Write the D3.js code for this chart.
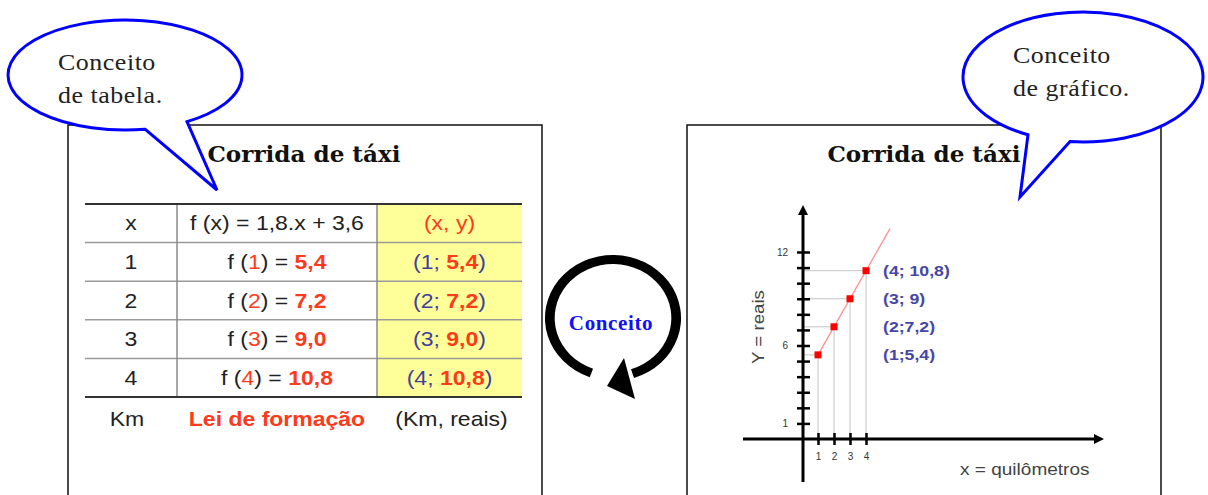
<!DOCTYPE html>
<html>
<head>
<meta charset="utf-8">
<script src="https://cdn.jsdelivr.net/npm/d3@7"></script>
<style>
  body { margin: 0; background: #fff; }
  svg { display: block; }
</style>
</head>
<body>
<svg id="chart" width="1208" height="495"></svg>
<script>
// --- data ---
const kms = [1, 2, 3, 4];
const reais = [5.4, 7.2, 9.0, 10.8];
const reaisText = ["5,4", "7,2", "9,0", "10,8"];
const pointLabels = ["(1;5,4)", "(2;7,2)", "(3; 9)", "(4; 10,8)"];
const headerCells = ["x", "f (x) = 1,8.x + 3,6", "(x, y)"];
const footerCells = ["Km", "Lei de formação", "(Km, reais)"];
const yTickValues = [1, 2, 3, 4, 5, 6, 7, 8, 9, 10, 11, 12];
const yTickLabels = [1, 6, 12];
const xTickValues = [1, 2, 3, 4];
const lawLine = [[1, 5.4], [5.5, 13.5]];

const RED = "#ff3a1a";
const BLUE = "#3f3f9f";

const svg = d3.select("#chart");

// stretched text helper (source image is a bit wide)
function stext(g, x, y, sx) {
    return g.append("text").attr("transform", `translate(${x},${y}) scale(${sx},1)`);
}

// --- frames ---
svg.append("path").attr("d", "M68,495V125H542V495")
    .attr("fill", "none").attr("stroke", "#111").attr("stroke-width", 1.5);
svg.append("path").attr("d", "M687,495V125H1161V495")
    .attr("fill", "none").attr("stroke", "#111").attr("stroke-width", 1.5);

const titles = svg.append("g")
    .style("font-family", "'DejaVu Serif', serif").style("font-weight", "bold")
    .style("font-size", "22px").attr("text-anchor", "middle").attr("fill", "#111");
stext(titles, 304, 162, 1.05).text("Corrida de táxi");
stext(titles, 924, 162, 1.05).text("Corrida de táxi");

// --- table ---
const cols = [85, 177, 377, 522];
const colMid = [0, 1, 2].map(i => (cols[i] + cols[i + 1]) / 2);
const rows = d3.scaleBand().domain(d3.range(5)).range([204, 397]);

const table = svg.append("g");
table.append("rect")
    .attr("x", cols[2]).attr("y", rows.range()[0])
    .attr("width", cols[3] - cols[2]).attr("height", rows.range()[1] - rows.range()[0])
    .attr("fill", "#ffff99");

table.selectAll(".hline").data(d3.range(1, 5)).join("line")
    .attr("x1", cols[0]).attr("x2", cols[3])
    .attr("y1", d => rows(d)).attr("y2", d => rows(d))
    .attr("stroke", "#9a9a9a").attr("stroke-width", 1.5);
table.selectAll(".vline").data([cols[1], cols[2]]).join("line")
    .attr("x1", d => d).attr("x2", d => d)
    .attr("y1", rows.range()[0]).attr("y2", rows.range()[1])
    .attr("stroke", "#8a8a8a").attr("stroke-width", 1.5);
table.selectAll(".rule").data(rows.range()).join("line")
    .attr("x1", cols[0]).attr("x2", cols[3])
    .attr("y1", d => d).attr("y2", d => d)
    .attr("stroke", "#333").attr("stroke-width", 2.2);

const cellText = table.append("g")
    .style("font-family", "'Liberation Sans', Arial, sans-serif")
    .style("font-size", "20px").attr("text-anchor", "middle").attr("fill", "#222");

const rowBase = i => rows(i) + rows.bandwidth() / 2 + 7;
const SX = 1.15;

stext(cellText, colMid[0], rowBase(0), SX).text(headerCells[0]);
stext(cellText, colMid[1], rowBase(0), SX).text(headerCells[1]);
stext(cellText, colMid[2], rowBase(0), SX).attr("fill", RED).text(headerCells[2]);

kms.forEach((k, i) => {
    const r = i + 1;
    stext(cellText, colMid[0], rowBase(r), SX).text(k);

    const f = stext(cellText, colMid[1], rowBase(r), SX);
    f.append("tspan").text("f (");
    f.append("tspan").attr("fill", RED).text(k);
    f.append("tspan").text(") = ");
    f.append("tspan").attr("fill", RED).style("font-weight", "bold").text(reaisText[i]);

    const p = stext(cellText, colMid[2], rowBase(r), SX).attr("fill", BLUE);
    p.append("tspan").text(`(${k}; `);
    p.append("tspan").attr("fill", RED).style("font-weight", "bold").text(reaisText[i]);
    p.append("tspan").text(")");
});

stext(cellText, colMid[0] - 4, 426, SX).text(footerCells[0]);
stext(cellText, colMid[1], 426, SX).attr("fill", RED).style("font-weight", "bold").text(footerCells[1]);
stext(cellText, colMid[2] + 2, 426, SX).text(footerCells[2]);

// --- circular arrow ---
const cycle = svg.append("g").attr("transform", "translate(613,318) scale(1.08,1)");
cycle.append("path")
    .attr("d", d3.arc()({ innerRadius: 54, outerRadius: 63,
        startAngle: 200 * Math.PI / 180, endAngle: 522 * Math.PI / 180 }))
    .attr("fill", "#000");
svg.append("path").attr("d", "M607,386L624,358L635,399Z").attr("fill", "#000");
stext(svg, 611, 330, 1.05)
    .attr("text-anchor", "middle")
    .style("font-family", "'Liberation Serif', 'Times New Roman', serif")
    .style("font-weight", "bold").style("font-size", "20px").style("letter-spacing", "0.6px")
    .attr("fill", "#1010ff").text("Conceito");

// --- graph ---
const x = d3.scaleLinear().domain([0, 4]).range([802, 866]);
const y = d3.scaleLinear().domain([0, 12]).range([439, 252]);
const plot = svg.append("g");

// guides
plot.selectAll(".gh").data(kms).join("line")
    .attr("x1", x(0)).attr("x2", (d) => x(d))
    .attr("y1", (d, i) => y(reais[i])).attr("y2", (d, i) => y(reais[i]))
    .attr("stroke", "#c4c4c4").attr("stroke-width", 1);
plot.selectAll(".gv").data(kms).join("line")
    .attr("x1", d => x(d)).attr("x2", d => x(d))
    .attr("y1", (d, i) => y(reais[i])).attr("y2", y(0))
    .attr("stroke", "#c4c4c4").attr("stroke-width", 1);

// law line
plot.append("path").datum(lawLine)
    .attr("d", d3.line().x(d => x(d[0])).y(d => y(d[1])))
    .attr("fill", "none").attr("stroke", "#ff8f8f").attr("stroke-width", 1.3);

// axes lines
plot.append("line").attr("x1", 743).attr("x2", 1095).attr("y1", y(0)).attr("y2", y(0))
    .attr("stroke", "#000").attr("stroke-width", 3);
plot.append("path").attr("d", `M1104,${y(0)}L1094,${y(0) - 5}L1094,${y(0) + 5}Z`).attr("fill", "#000");
plot.append("line").attr("x1", x(0) + 1).attr("x2", x(0) + 1).attr("y1", 482).attr("y2", 214)
    .attr("stroke", "#000").attr("stroke-width", 3);
plot.append("path").attr("d", `M${x(0) + 1},205L${x(0) - 4},215L${x(0) + 6},215Z`).attr("fill", "#000");

const yAxis = plot.append("g").attr("transform", `translate(${x(0) + 8},0)`)
    .call(d3.axisLeft(y).tickValues(yTickValues).tickSize(13).tickPadding(9)
        .tickFormat(d => yTickLabels.includes(d) ? d : ""));
const xAxis = plot.append("g").attr("transform", `translate(0,${y(0) - 6})`)
    .call(d3.axisBottom(x).tickValues(xTickValues).tickSize(12).tickPadding(8)
        .tickFormat(d3.format("d")));
[yAxis, xAxis].forEach(a => {
    a.select(".domain").remove();
    a.selectAll(".tick line").attr("stroke", "#000").attr("stroke-width", 2.5);
    a.selectAll(".tick text").attr("fill", "#333")
        .style("font-family", "'Liberation Sans', Arial, sans-serif").style("font-size", "10px");
});

// points
plot.selectAll(".pt").data(kms).join("rect")
    .attr("x", d => x(d) - 3.5).attr("y", (d, i) => y(reais[i]) - 3.5)
    .attr("width", 7).attr("height", 7).attr("fill", "#ff0000");

const labels = plot.append("g")
    .style("font-family", "'Liberation Sans', Arial, sans-serif")
    .style("font-weight", "bold").style("font-size", "15px").attr("fill", "#4646a8");
kms.forEach((k, i) => {
    stext(labels, x(4) + 17, y(reais[i]) + 5, 1.18).text(pointLabels[i]);
});

const axisLabels = plot.append("g")
    .style("font-family", "'Liberation Sans', Arial, sans-serif")
    .style("font-size", "17px").attr("fill", "#444");
axisLabels.append("text").attr("text-anchor", "middle")
    .attr("transform", "translate(764,327) rotate(-90) scale(1.1,1)").text("Y = reais");
stext(axisLabels, 960, 475, 1.12).text("x = quilômetros");

// --- speech bubbles ---
function bubble(cx, cy, rx, ry, baseL, baseR, tip) {
    const yAt = px => cy + ry * Math.sqrt(1 - ((px - cx) / rx) ** 2);
    const a = [baseL, yAt(baseL)], b = [baseR, yAt(baseR)];
    return `M${a}L${tip}L${b}A${rx} ${ry} 0 1 0 ${a}Z`;
}
const bubbles = svg.append("g");
bubbles.append("path").attr("d", bubble(125, 75, 117, 55, 145, 187, [217, 190]))
    .attr("fill", "#fff").attr("stroke", "#0000ff").attr("stroke-width", 3);
bubbles.append("path").attr("d", bubble(1083, 77, 120, 65, 1028, 1070, [1020, 197]))
    .attr("fill", "#fff").attr("stroke", "#0000ff").attr("stroke-width", 3);

const btext = bubbles.append("g")
    .style("font-family", "'Liberation Serif', 'Times New Roman', serif")
    .style("font-size", "24px").style("letter-spacing", "0.5px").attr("fill", "#222");
stext(btext, 58, 70, 1.08).text("Conceito");
stext(btext, 58, 103, 1.08).text("de tabela.");
stext(btext, 1013, 63, 1.08).text("Conceito");
stext(btext, 1013, 96, 1.08).text("de gráfico.");
</script>
</body>
</html>
